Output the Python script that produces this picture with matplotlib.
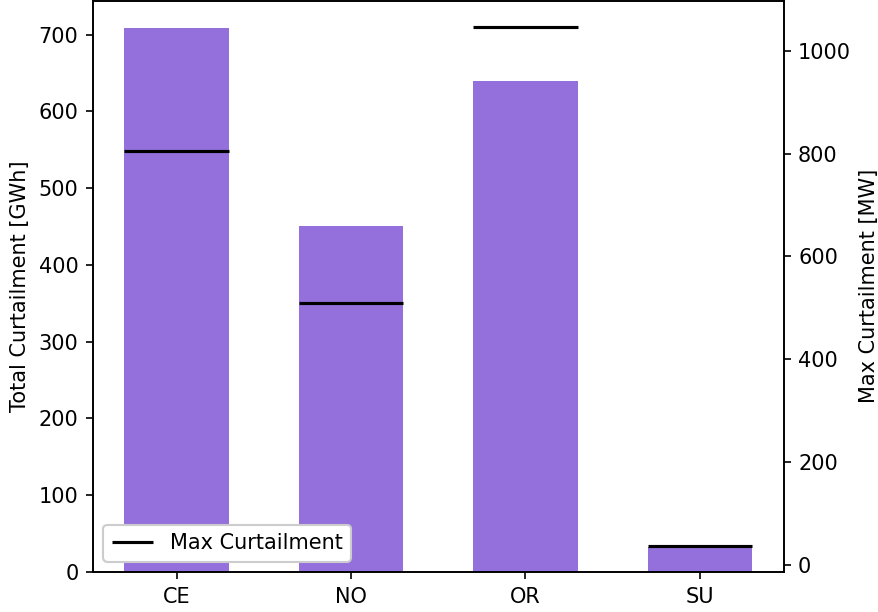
import numpy as np
import matplotlib
matplotlib.use("Agg")
import matplotlib.pyplot as plt

regions = ["CE", "NO", "OR", "SU"]
total_curtailment = [709, 451, 640, 33]     # GWh
max_curtailment = [805, 510, 1047, 37]      # MW

x = np.arange(len(regions))
width = 0.6

fig = plt.figure(figsize=(878 / 150, 612 / 150), dpi=150)
ax1 = fig.add_axes([0.1059, 0.0654, 0.7865, 0.9336])
ax1.bar(x, total_curtailment, width=width, color="mediumpurple")
ax1.set_xticks(x)
ax1.set_xticklabels(regions)
ax1.set_ylabel("Total Curtailment [GWh]")

# max curtailment as short black dashes across each bar
ax2 = ax1.twinx()
ax2.hlines(max_curtailment, x - width / 2, x + width / 2, color="black",
           linewidth=1.5, label="Max Curtailment")
ax2.set_ylabel("Max Curtailment [MW]")
ax2.legend(loc="lower left", framealpha=1)

fig.savefig("out.png", dpi=150)
